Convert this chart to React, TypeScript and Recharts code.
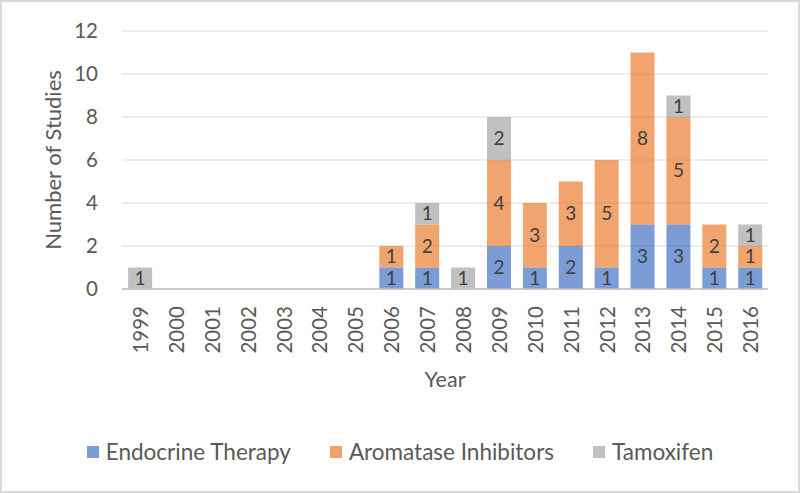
import React from "react";
import {
  BarChart,
  Bar,
  XAxis,
  YAxis,
  CartesianGrid,
  Legend,
  LabelList,
} from "recharts";

const years = [
  "1999", "2000", "2001", "2002", "2003", "2004", "2005", "2006", "2007",
  "2008", "2009", "2010", "2011", "2012", "2013", "2014", "2015", "2016",
];
const endocrine = [0, 0, 0, 0, 0, 0, 0, 1, 1, 0, 2, 1, 2, 1, 3, 3, 1, 1];
const aromatase = [0, 0, 0, 0, 0, 0, 0, 1, 2, 0, 4, 3, 3, 5, 8, 5, 2, 1];
const tamoxifen = [1, 0, 0, 0, 0, 0, 0, 0, 1, 1, 2, 0, 0, 0, 0, 1, 0, 1];
const yTicks = [0, 2, 4, 6, 8, 10, 12];

const series = [
  { key: "endocrine", name: "Endocrine Therapy", color: "#4472C4" },
  { key: "aromatase", name: "Aromatase Inhibitors", color: "#ED7D31" },
  { key: "tamoxifen", name: "Tamoxifen", color: "#A5A5A5" },
];

const data = years.map((year, i) => ({
  year,
  endocrine: endocrine[i],
  aromatase: aromatase[i],
  tamoxifen: tamoxifen[i],
}));

const FONT = "Lato, 'Open Sans', sans-serif";

function YearTick({ x, y, payload }: any) {
  return (
    <text
      transform={`translate(${x},${y + 17}) rotate(-90)`}
      textAnchor="end"
      dominantBaseline="central"
      fill="#595959"
      fontSize={20.5}
      fontFamily={FONT}
    >
      {payload.value}
    </text>
  );
}

function LegendContent() {
  return (
    <div
      style={{
        display: "flex",
        justifyContent: "center",
        gap: 39,
        fontSize: 22.5,
        lineHeight: "26px",
        color: "#595959",
        fontFamily: FONT,
      }}
    >
      {series.map((s) => (
        <div key={s.key} style={{ display: "flex", alignItems: "center" }}>
          <span
            style={{
              width: 12,
              height: 12,
              background: s.color,
              opacity: 0.7,
              marginRight: 7,
            }}
          />
          {s.name}
        </div>
      ))}
    </div>
  );
}

export default function App() {
  return (
    <div
      style={{
        position: "absolute",
        left: 0,
        top: 0,
        width: 800,
        height: 493,
        boxSizing: "border-box",
        border: "2px solid #d9d9d9",
        background: "#fff",
        fontFamily: FONT,
      }}
    >
      <div style={{ position: "absolute", left: -2, top: -2 }}>
        <BarChart
          width={800}
          height={493}
          data={data}
          margin={{ top: 31, right: 32, left: 0, bottom: 68 }}
          barCategoryGap="17%"
        >
          <CartesianGrid vertical={false} stroke="#d9d9d9" strokeWidth={1.2} />
          <XAxis
            dataKey="year"
            height={110}
            interval={0}
            tickSize={0}
            tickMargin={0}
            tick={<YearTick />}
            axisLine={{ stroke: "#bfbfbf", strokeWidth: 1.5 }}
            tickLine={false}
            label={{
              value: "Year",
              position: "insideBottom",
              offset: 12,
              fill: "#595959",
              fontSize: 21.5,
            }}
          />
          <YAxis
            width={122}
            domain={[0, 12]}
            ticks={yTicks}
            tickSize={0}
            tickMargin={24}
            axisLine={false}
            tickLine={false}
            tick={{ fill: "#595959", fontSize: 20.5 }}
            label={{
              value: "Number of Studies",
              angle: -90,
              position: "insideLeft",
              offset: 53,
              fill: "#595959",
              fontSize: 22,
              style: { textAnchor: "middle" },
            }}
          />
          <Legend
            verticalAlign="bottom"
            wrapperStyle={{ bottom: 28, left: 0, width: 800 }}
            content={<LegendContent />}
          />
          {series.map((s) => (
            <Bar
              key={s.key}
              dataKey={s.key}
              name={s.name}
              stackId="a"
              fill={s.color}
              fillOpacity={0.7}
              isAnimationActive={false}
            >
              <LabelList
                dataKey={s.key}
                position="center"
                fill="#404040"
                fontSize={19}
                formatter={(v: any) => (v ? v : "")}
              />
            </Bar>
          ))}
        </BarChart>
      </div>
    </div>
  );
}
